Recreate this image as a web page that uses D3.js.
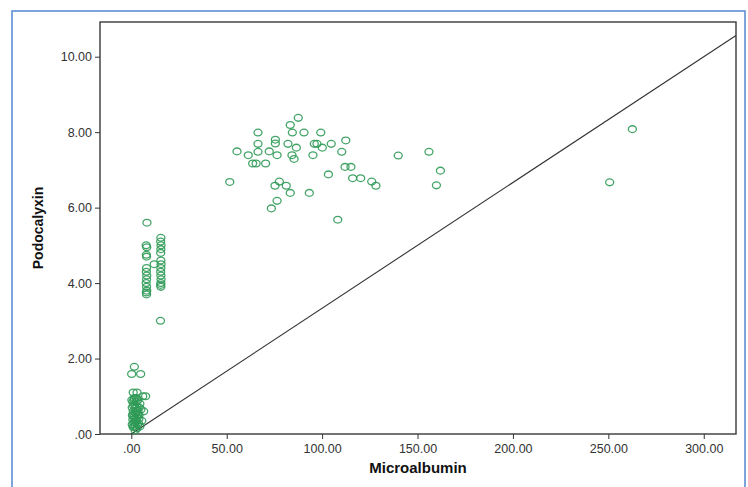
<!DOCTYPE html>
<html><head><meta charset="utf-8">
<script src="https://cdn.jsdelivr.net/npm/d3@7"></script>
<style>body{margin:0;background:#fff;}svg{display:block;font-family:"Liberation Sans",Arial,sans-serif;}</style>
</head><body>
<svg id="c" width="748" height="487"></svg>
<script>
// Data: [Microalbumin, Podocalyxin]
const microalbumin = [
 // mid cluster
 87.5,83.3,66.4,84.4,90.5,99.3,66.4,75.5,75.5,82.1,86.5,95.9,97.3,100.1,104.8,55.4,61.3,66.4,72.3,76.4,84.2,85.3,95.2,63.6,65.4,70.4,51.6,103.3,77.6,75.3,81.2,83.3,93.3,76.4,73.4,
 112.4,110.3,139.9,156.0,112.0,115.1,162.0,116.0,120.2,126.0,128.2,159.9,108.2,
 262.6,250.7,
 // left column ~8
 8.2,7.8,8.1,7.9,8.0,8.0,7.9,8.1,8.0,7.8,8.0,8.1,7.9,8.0,
 // right column ~15.5
 15.5,15.4,15.6,15.5,15.4,15.5,15.6,15.5,15.4,15.5,15.6,15.5,15.4,15.5,15.3,
 12.0,
 // trio
 1.6,0.2,4.9,
 // bottom cluster
 1.0,3.0,6.0,7.5,1.5,3.5,0.8,2.5,4.5,1.2,3.0,0.5,2.0,5.0,1.0,3.5,2.2,0.6,4.0,1.5,3.0,0.8,2.5,5.5,1.2,3.8,0.5,2.0,4.5,1.0,3.0,2.0,1.5,2.8,4.2,0.3,6.5,2.0,4.0,3.2,
 1.8,2.6,0.9,3.4,2.1,1.4
];
const podocalyxin = [
 8.38,8.19,7.99,7.99,7.99,7.99,7.69,7.80,7.70,7.69,7.59,7.69,7.69,7.59,7.69,7.49,7.39,7.48,7.49,7.39,7.39,7.29,7.39,7.17,7.17,7.17,6.68,6.88,6.69,6.58,6.58,6.39,6.39,6.18,5.98,
 7.78,7.48,7.38,7.48,7.08,7.08,6.98,6.78,6.78,6.69,6.58,6.59,5.68,
 8.08,6.67,
 5.60,5.00,4.95,4.75,4.70,4.40,4.30,4.20,4.10,4.00,3.90,3.80,3.75,3.70,
 5.20,5.10,5.00,4.90,4.80,4.60,4.50,4.40,4.30,4.20,4.10,4.00,3.95,3.90,3.00,
 4.50,
 1.78,1.59,1.59,
 1.10,1.10,1.00,1.00,0.95,0.90,0.85,0.85,0.80,0.75,0.72,0.70,0.68,0.65,0.60,0.60,0.55,0.50,0.50,0.45,0.42,0.38,0.35,0.35,0.30,0.28,0.25,0.22,0.20,0.18,0.15,0.10,0.90,0.95,0.70,0.90,0.60,0.30,0.40,0.25,
 0.78,0.62,0.48,0.52,0.40,0.20
];
const xTicks = [0,50,100,150,200,250,300];
const yTicks = [0,2,4,6,8,10];
const refSlope = [0, 1/30]; // reference line y = x/30

const svg = d3.select("#c");
const L=100,R=736,T=22,B=434;
const x = d3.scaleLinear().domain([-16.4,316.9]).range([L,R]);
const y = d3.scaleLinear().domain([0,10.92]).range([B,T]);
const fmt = v => d3.format(".2f")(v).replace(/^0\./,".");

// outer blue frame
svg.append("rect").attr("x",12).attr("y",11).attr("width",733).attr("height",490)
  .attr("fill","none").attr("stroke","#5d8fd3").attr("stroke-width",1.6);

// plot frame
svg.append("rect").attr("x",L).attr("y",T).attr("width",R-L).attr("height",B-T)
  .attr("fill","#fff").attr("stroke","#3a3a3a").attr("stroke-width",1.4);

// axes
const gx = svg.append("g").attr("transform",`translate(0,${B})`)
  .call(d3.axisBottom(x).tickValues(xTicks).tickFormat(fmt).tickSize(5).tickPadding(5));
const gy = svg.append("g").attr("transform",`translate(${L},0)`)
  .call(d3.axisLeft(y).tickValues(yTicks).tickFormat(fmt).tickSize(5).tickPadding(3));
[gx,gy].forEach(g=>{
  g.select(".domain").remove();
  g.selectAll("line").attr("stroke","#333");
  g.selectAll("text").attr("fill","#333").style("font-size","12.5px").style("font-family",'"Liberation Sans",Arial,sans-serif');
});

// reference line
const x0 = 0, x1 = x.domain()[1];
svg.append("line")
  .attr("x1",x(x0)).attr("y1",y(refSlope[0]+refSlope[1]*x0))
  .attr("x2",x(x1)).attr("y2",y(refSlope[0]+refSlope[1]*x1))
  .attr("stroke","#333").attr("stroke-width",1.1);

// points
const pts = microalbumin.map((m,i)=>({m,p:podocalyxin[i]}));
svg.append("g").selectAll("ellipse").data(pts).enter().append("ellipse")
  .attr("cx",d=>x(d.m)).attr("cy",d=>y(d.p)).attr("rx",4).attr("ry",3.4)
  .attr("fill","none").attr("stroke","#2f9a56").attr("stroke-width",1.3).attr("stroke-opacity",0.9);

// axis titles
svg.append("text").attr("x",(L+R)/2).attr("y",473).attr("text-anchor","middle")
  .style("font-weight","bold").style("font-size","15px").attr("fill","#111").text("Microalbumin");
svg.append("text").attr("transform",`translate(43,${(T+B)/2}) rotate(-90)`).attr("text-anchor","middle")
  .style("font-weight","bold").style("font-size","14px").attr("fill","#111").text("Podocalyxin");
</script>
</body></html>
